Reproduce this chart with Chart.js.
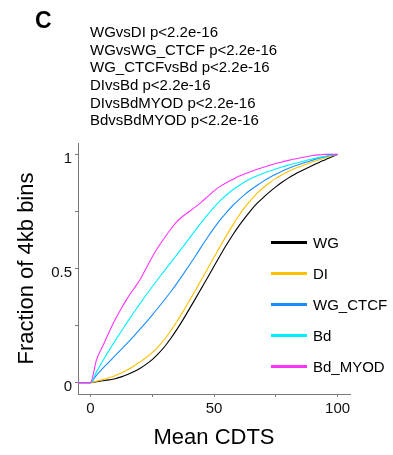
<!DOCTYPE html>
<html>
<head>
<meta charset="utf-8">
<script src="https://cdn.jsdelivr.net/npm/chart.js@4/dist/chart.umd.min.js"></script>
<style>
  html, body { margin: 0; padding: 0; background: #fff; }
  body { width: 393px; height: 455px; position: relative; overflow: hidden;
         font-family: "Liberation Sans", Arial, Helvetica, sans-serif; color: #000; }
  #wrap { position: absolute; left: 0; top: 0; width: 393px; height: 455px; }
  #panel { position: absolute; left: 35px; top: 9px; font-size: 23px; line-height: 23px; font-weight: bold; }
  #stats { position: absolute; left: 90px; top: 23px; font-size: 15px; line-height: 17.66px; white-space: pre; }
  #legend { position: absolute; left: 271px; top: 227px; font-size: 15px; }
  .item { display: flex; align-items: center; height: 31px; }
  .swatch { width: 36px; height: 3px; margin-right: 6px; }
</style>
</head>
<body>
<div id="wrap"><canvas id="c" width="393" height="455"></canvas></div>
<div id="panel">C</div>
<div id="stats"></div>
<div id="legend"></div>
<script>
// ---- data ----
const statLines = [
  "WGvsDI p<2.2e-16",
  "WGvsWG_CTCF p<2.2e-16",
  "WG_CTCFvsBd p<2.2e-16",
  "DIvsBd p<2.2e-16",
  "DIvsBdMYOD p<2.2e-16",
  "BdvsBdMYOD p<2.2e-16"
];
const seriesNames = ["WG", "DI", "WG_CTCF", "Bd", "Bd_MYOD"];
const seriesColors = ["#000000", "#FFC000", "#1A8CFF", "#00F0FF", "#FF33FF"];

const xValues = [-5, 0, 2.5, 5, 7.5, 10, 12.5, 15, 17.5, 20, 22.5, 25, 27.5, 30, 32.5, 35, 37.5, 40,
  42.5, 45, 47.5, 50, 52.5, 55, 57.5, 60, 62.5, 65, 67.5, 70, 72.5, 75, 77.5, 80, 82.5, 85,
  87.5, 90, 92.5, 95, 97.5, 100];

const WG = [0, 0, 0.004, 0.008, 0.012, 0.017, 0.025, 0.035, 0.047, 0.062, 0.08, 0.101, 0.127, 0.157,
  0.193, 0.233, 0.276, 0.322, 0.368, 0.415, 0.462, 0.51, 0.557, 0.603, 0.646, 0.686, 0.722, 0.756,
  0.786, 0.812, 0.836, 0.858, 0.878, 0.896, 0.912, 0.926, 0.939, 0.952, 0.965, 0.977, 0.989, 1.0];
const DI = [0, 0, 0.006, 0.013, 0.021, 0.03, 0.042, 0.056, 0.072, 0.09, 0.109, 0.131, 0.158, 0.19,
  0.227, 0.268, 0.312, 0.358, 0.405, 0.453, 0.501, 0.549, 0.597, 0.644, 0.689, 0.731, 0.769, 0.801,
  0.83, 0.855, 0.876, 0.895, 0.911, 0.925, 0.937, 0.948, 0.958, 0.968, 0.977, 0.985, 0.993, 1.0];
const WG_CTCF = [0, 0, 0.033, 0.062, 0.09, 0.118, 0.146, 0.174, 0.203, 0.233, 0.264, 0.296, 0.329, 0.363,
  0.398, 0.435, 0.474, 0.514, 0.555, 0.597, 0.638, 0.677, 0.713, 0.745, 0.775, 0.801, 0.825, 0.846,
  0.865, 0.883, 0.899, 0.913, 0.926, 0.938, 0.949, 0.958, 0.967, 0.975, 0.983, 0.99, 0.996, 1.0];
const Bd = [0, 0, 0.048, 0.095, 0.14, 0.183, 0.225, 0.266, 0.306, 0.345, 0.383, 0.42, 0.456, 0.491,
  0.526, 0.561, 0.596, 0.632, 0.668, 0.703, 0.737, 0.768, 0.797, 0.822, 0.844, 0.863, 0.88, 0.894,
  0.906, 0.917, 0.927, 0.936, 0.945, 0.953, 0.96, 0.967, 0.974, 0.981, 0.987, 0.992, 0.997, 1.0];
const Bd_MYOD = [0, 0, 0.1, 0.16, 0.22, 0.275, 0.325, 0.37, 0.41, 0.45, 0.5, 0.55, 0.595, 0.635,
  0.672, 0.705, 0.73, 0.75, 0.77, 0.792, 0.816, 0.84, 0.86, 0.876, 0.89, 0.904, 0.915, 0.925,
  0.935, 0.944, 0.952, 0.96, 0.967, 0.974, 0.98, 0.985, 0.99, 0.995, 0.998, 1.0, 1.0, 1.0];

const xTicks = [0, 25, 50, 75, 100];
const xTickLabels = ["0", "", "50", "", "100"];
const yTicks = [0, 0.25, 0.5, 0.75, 1];
const yTickLabels = ["0", "", "0.5", "", "1"];
const xTitle = "Mean CDTS";
const yTitle = "Fraction of 4kb bins";

// ---- text ----
document.getElementById('stats').textContent = statLines.join("\n");
const legendEl = document.getElementById('legend');
seriesNames.forEach((n, i) => {
  const row = document.createElement('div'); row.className = 'item';
  const sw = document.createElement('div'); sw.className = 'swatch'; sw.style.background = seriesColors[i];
  const tx = document.createElement('span'); tx.textContent = n;
  row.appendChild(sw); row.appendChild(tx); legendEl.appendChild(row);
});

// ---- chart ----
const seriesValues = [WG, DI, WG_CTCF, Bd, Bd_MYOD];
const datasets = seriesNames.map((n, i) => ({
  label: n,
  data: xValues.map((x, j) => ({ x: x, y: seriesValues[i][j] })),
  borderColor: seriesColors[i],
  backgroundColor: seriesColors[i],
  borderWidth: 1.1,
  pointRadius: 0,
  fill: false,
  cubicInterpolationMode: 'monotone',
  order: seriesNames.length - i
}));

const FONT = "'Liberation Sans', Arial, Helvetica, sans-serif";
const AXIS = '#7a7a7a';

new Chart(document.getElementById('c'), {
  type: 'line',
  data: { datasets },
  options: {
    responsive: false,
    animation: false,
    devicePixelRatio: 1,
    layout: { padding: { top: 143, right: 43, bottom: 0, left: 0 } },
    plugins: { legend: { display: false }, tooltip: { enabled: false }, title: { display: false } },
    scales: {
      x: {
        type: 'linear', min: -5, max: 105,
        afterFit: (s) => { s.height = 61; },
        afterBuildTicks: (s) => { s.ticks = xTicks.map(v => ({ value: v })); },
        grid: { display: true, drawOnChartArea: false, drawTicks: true, tickLength: 3, color: AXIS },
        border: { display: true, color: AXIS, width: 1 },
        ticks: { padding: 3, maxRotation: 0, autoSkip: false, color: '#111',
                 font: { family: FONT, size: 15 },
                 callback: (v, i) => xTickLabels[i] },
        title: { display: true, text: xTitle, color: '#000',
                 font: { family: FONT, size: 22 }, padding: { top: 0, bottom: 4 } }
      },
      y: {
        type: 'linear', min: -0.05, max: 1.05,
        afterFit: (s) => { s.width = 78; },
        afterBuildTicks: (s) => { s.ticks = yTicks.map(v => ({ value: v })); },
        grid: { display: true, drawOnChartArea: false, drawTicks: true, tickLength: 3, color: AXIS },
        border: { display: true, color: AXIS, width: 1 },
        ticks: { padding: 3, autoSkip: false, color: '#111', labelOffset: 4,
                 font: { family: FONT, size: 15 },
                 callback: (v, i) => yTickLabels[i] },
        title: { display: true, text: yTitle, color: '#000',
                 font: { family: FONT, size: 22 }, padding: { top: 14, bottom: 0 } }
      }
    }
  }
});
</script>
</body>
</html>
